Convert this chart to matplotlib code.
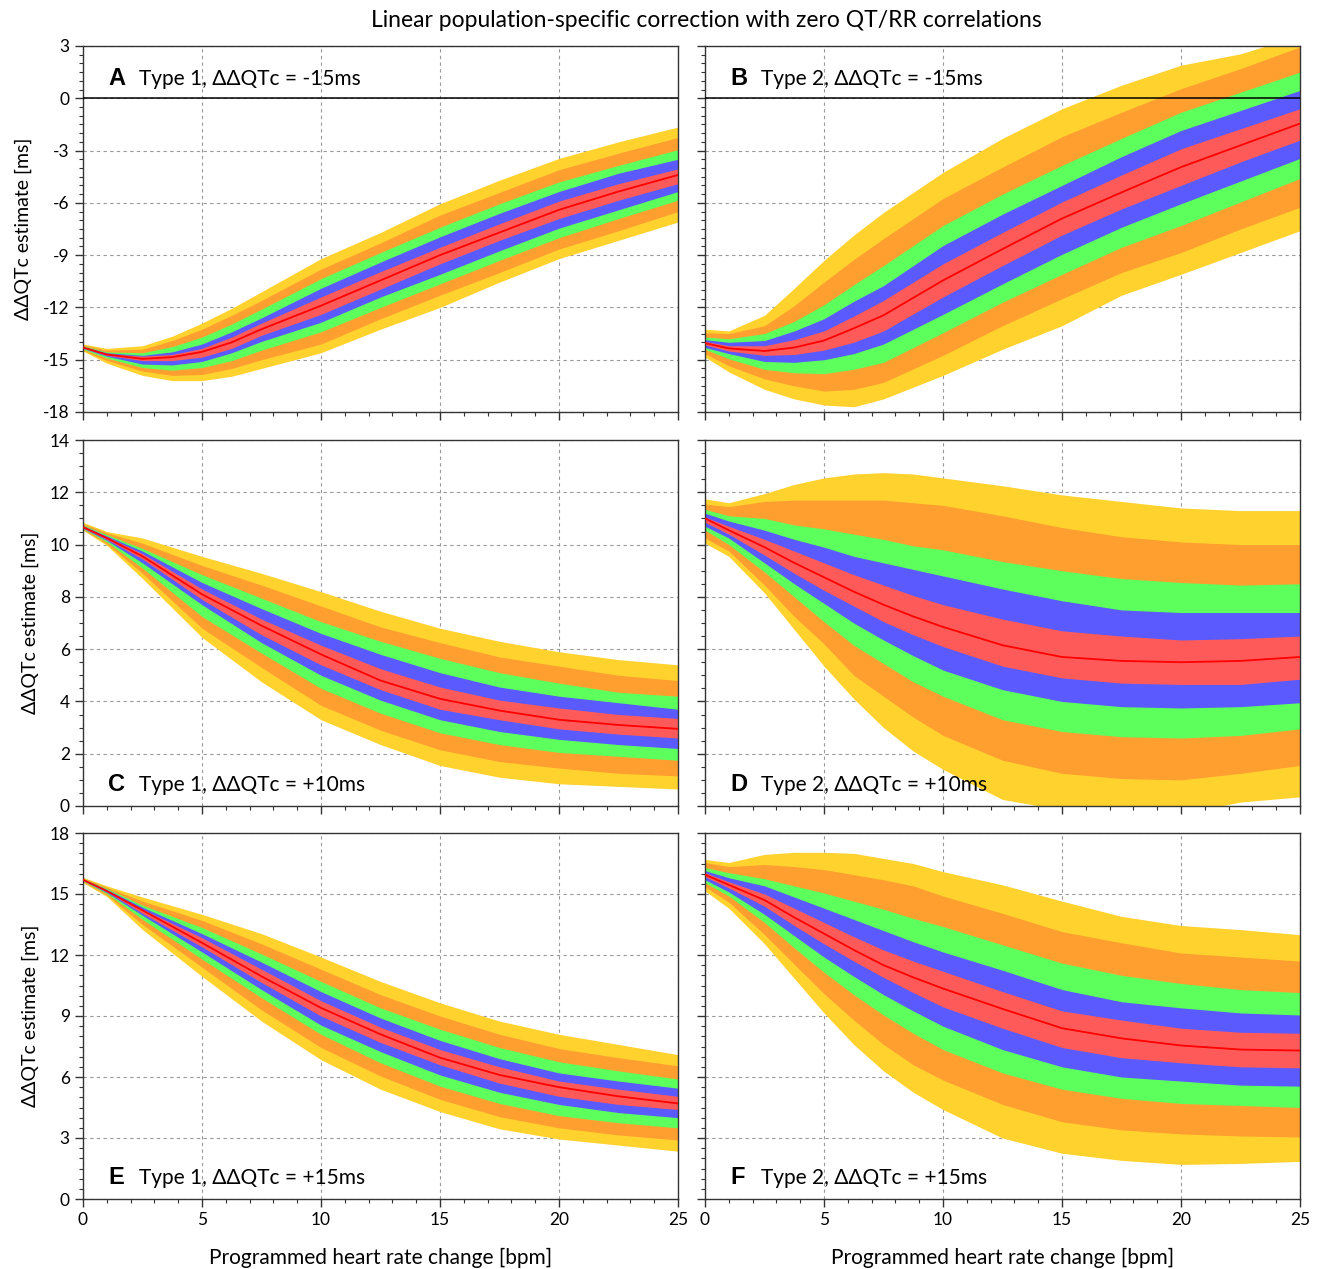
import matplotlib
matplotlib.use("Agg")
import matplotlib.pyplot as plt
from matplotlib.ticker import MultipleLocator

plt.rcParams['font.family'] = ['Lato', 'DejaVu Sans']
plt.rcParams['axes.unicode_minus'] = False

# programmed heart rate change [bpm] (finer steps where the curves bend)
x_ab = [0, 1, 2.5, 3.75, 5, 6.25, 7.5, 10, 12.5, 15, 17.5, 20, 22.5, 25]
x_ce = [0, 1, 2.5, 5, 7.5, 10, 12.5, 15, 17.5, 20, 22.5, 25]
x_df = [0, 1, 2.5, 3.75, 5, 6.25, 7.5, 8.75, 10, 12.5, 15, 17.5, 20, 22.5, 25]

#--- A: Type 1, -15ms
a_median    = [-14.3, -14.7, -14.95, -14.85, -14.55, -14.0, -13.25, -11.9, -10.45, -9.0, -7.7, -6.4, -5.35, -4.4]
a_yellow_hi = [-14.1, -14.35, -14.2, -13.65, -12.9, -12.05, -11.1, -9.2, -7.7, -6.05, -4.7, -3.45, -2.5, -1.65]
a_orange_hi = [-14.15, -14.45, -14.4, -13.9, -13.25, -12.45, -11.6, -9.8, -8.3, -6.7, -5.4, -4.1, -3.15, -2.25]
a_green_hi  = [-14.2, -14.55, -14.6, -14.25, -13.7, -12.95, -12.1, -10.35, -8.85, -7.4, -6.05, -4.8, -3.85, -2.95]
a_blue_hi   = [-14.25, -14.6, -14.75, -14.55, -14.1, -13.4, -12.6, -10.9, -9.4, -7.95, -6.6, -5.35, -4.3, -3.5]
a_red_hi    = [-14.28, -14.65, -14.8, -14.7, -14.35, -13.7, -12.9, -11.4, -9.95, -8.55, -7.2, -5.9, -4.9, -4.05]
a_red_lo    = [-14.32, -14.75, -15.05, -15.05, -14.85, -14.35, -13.6, -12.4, -10.95, -9.5, -8.15, -6.9, -5.85, -4.9]
a_blue_lo   = [-14.35, -14.8, -15.25, -15.3, -15.1, -14.6, -13.95, -12.85, -11.4, -10.1, -8.75, -7.45, -6.4, -5.35]
a_green_lo  = [-14.4, -14.9, -15.45, -15.6, -15.45, -15.05, -14.45, -13.4, -12.0, -10.65, -9.3, -8.0, -6.9, -5.85]
a_orange_lo = [-14.45, -15.05, -15.65, -15.9, -15.85, -15.5, -15.0, -14.1, -12.65, -11.3, -10.0, -8.65, -7.6, -6.5]
a_yellow_lo = [-14.5, -15.2, -15.9, -16.2, -16.2, -15.95, -15.5, -14.6, -13.25, -12.0, -10.55, -9.2, -8.15, -7.1]

#--- B: Type 2, -15ms
b_median    = [-14.05, -14.35, -14.5, -14.3, -13.9, -13.2, -12.45, -10.45, -8.65, -6.9, -5.4, -3.95, -2.7, -1.45]
b_yellow_hi = [-13.25, -13.35, -12.45, -10.9, -9.3, -7.85, -6.55, -4.25, -2.3, -0.6, 0.75, 1.9, 2.55, 3.6]
b_orange_hi = [-13.45, -13.5, -13.05, -11.9, -10.55, -9.25, -8.05, -5.75, -3.95, -2.2, -0.8, 0.55, 1.7, 2.95]
b_green_hi  = [-13.7, -13.8, -13.5, -12.8, -11.85, -10.7, -9.6, -7.3, -5.5, -3.85, -2.3, -0.8, 0.35, 1.5]
b_blue_hi   = [-13.85, -14.0, -13.9, -13.35, -12.65, -11.65, -10.75, -8.45, -6.65, -5.0, -3.35, -1.85, -0.7, 0.45]
b_red_hi    = [-13.95, -14.2, -14.2, -13.85, -13.35, -12.5, -11.6, -9.5, -7.7, -5.95, -4.4, -2.9, -1.75, -0.6]
b_red_lo    = [-14.15, -14.5, -14.75, -14.7, -14.45, -14.0, -13.35, -11.4, -9.6, -7.85, -6.35, -5.0, -3.65, -2.4]
b_blue_lo   = [-14.3, -14.65, -15.1, -15.15, -15.0, -14.65, -14.1, -12.4, -10.65, -8.95, -7.4, -6.05, -4.75, -3.45]
b_green_lo  = [-14.4, -14.95, -15.55, -15.75, -15.8, -15.55, -15.15, -13.45, -11.7, -10.1, -8.55, -7.3, -5.95, -4.6]
b_orange_lo = [-14.65, -15.35, -16.1, -16.5, -16.8, -16.7, -16.3, -14.75, -13.05, -11.5, -10.0, -8.85, -7.5, -6.25]
b_yellow_lo = [-14.85, -15.7, -16.7, -17.25, -17.6, -17.7, -17.25, -15.9, -14.4, -13.05, -11.3, -10.1, -8.85, -7.6]

#--- C: Type 1, +10ms
c_median    = [10.67, 10.25, 9.55, 8.1, 6.9, 5.8, 4.8, 4.1, 3.65, 3.3, 3.1, 2.95]
c_yellow_hi = [10.85, 10.5, 10.25, 9.55, 8.9, 8.2, 7.45, 6.8, 6.3, 5.9, 5.6, 5.4]
c_orange_hi = [10.8, 10.45, 10.05, 9.2, 8.45, 7.65, 6.85, 6.25, 5.7, 5.35, 5.0, 4.8]
c_green_hi  = [10.75, 10.38, 9.85, 8.85, 7.95, 7.05, 6.3, 5.65, 5.1, 4.7, 4.35, 4.2]
c_blue_hi   = [10.72, 10.33, 9.75, 8.55, 7.55, 6.6, 5.8, 5.1, 4.55, 4.2, 3.95, 3.7]
c_red_hi    = [10.7, 10.3, 9.65, 8.3, 7.15, 6.15, 5.25, 4.55, 4.05, 3.75, 3.5, 3.35]
c_red_lo    = [10.64, 10.2, 9.45, 7.9, 6.55, 5.4, 4.45, 3.7, 3.3, 2.95, 2.75, 2.6]
c_blue_lo   = [10.62, 10.16, 9.3, 7.7, 6.25, 5.0, 4.05, 3.3, 2.85, 2.55, 2.35, 2.2]
c_green_lo  = [10.6, 10.1, 9.1, 7.25, 5.85, 4.5, 3.55, 2.8, 2.35, 2.05, 1.9, 1.75]
c_orange_lo = [10.57, 10.03, 8.9, 6.8, 5.3, 3.85, 2.9, 2.15, 1.7, 1.45, 1.25, 1.15]
c_yellow_lo = [10.55, 9.97, 8.7, 6.45, 4.75, 3.3, 2.35, 1.55, 1.1, 0.85, 0.75, 0.65]

#--- D: Type 2, +10ms
d_median    = [11.0, 10.55, 9.9, 9.3, 8.75, 8.2, 7.7, 7.25, 6.85, 6.15, 5.7, 5.55, 5.5, 5.55, 5.7]
d_yellow_hi = [11.75, 11.6, 11.95, 12.3, 12.55, 12.7, 12.75, 12.7, 12.55, 12.25, 11.9, 11.65, 11.4, 11.3, 11.3]
d_orange_hi = [11.55, 11.45, 11.65, 11.7, 11.7, 11.7, 11.7, 11.6, 11.5, 11.1, 10.65, 10.3, 10.1, 10.0, 10.0]
d_green_hi  = [11.35, 11.1, 11.0, 10.75, 10.6, 10.4, 10.2, 9.95, 9.8, 9.35, 9.0, 8.7, 8.55, 8.45, 8.5]
d_blue_hi   = [11.2, 10.9, 10.55, 10.2, 9.9, 9.55, 9.3, 9.05, 8.8, 8.3, 7.85, 7.5, 7.4, 7.4, 7.4]
d_red_hi    = [11.05, 10.7, 10.2, 9.75, 9.3, 8.85, 8.45, 8.05, 7.7, 7.15, 6.7, 6.5, 6.35, 6.4, 6.5]
d_red_lo    = [10.85, 10.4, 9.6, 8.9, 8.25, 7.65, 7.05, 6.55, 6.1, 5.35, 4.9, 4.7, 4.65, 4.65, 4.85]
d_blue_lo   = [10.7, 10.25, 9.3, 8.5, 7.75, 7.0, 6.35, 5.75, 5.2, 4.45, 4.0, 3.8, 3.75, 3.8, 3.95]
d_green_lo  = [10.55, 10.0, 8.95, 8.0, 7.05, 6.15, 5.45, 4.75, 4.2, 3.3, 2.85, 2.65, 2.6, 2.7, 2.95]
d_orange_lo = [10.25, 9.75, 8.45, 7.25, 6.2, 5.0, 4.2, 3.4, 2.7, 1.75, 1.25, 1.05, 1.0, 1.25, 1.55]
d_yellow_lo = [10.05, 9.55, 8.15, 6.75, 5.35, 4.1, 3.0, 2.1, 1.4, 0.25, -0.15, -0.15, -0.3, 0.15, 0.35]

#--- E: Type 1, +15ms
e_median    = [15.7, 15.15, 14.2, 12.6, 10.95, 9.4, 8.1, 6.95, 6.1, 5.5, 5.05, 4.7]
e_yellow_hi = [15.82, 15.4, 14.85, 14.0, 13.05, 11.9, 10.7, 9.65, 8.75, 8.1, 7.6, 7.1]
e_orange_hi = [15.78, 15.33, 14.65, 13.7, 12.55, 11.3, 10.05, 9.0, 8.1, 7.4, 6.95, 6.55]
e_green_hi  = [15.75, 15.27, 14.45, 13.35, 12.05, 10.7, 9.4, 8.35, 7.45, 6.75, 6.3, 5.9]
e_blue_hi   = [15.73, 15.22, 14.35, 13.05, 11.65, 10.2, 8.9, 7.8, 6.9, 6.2, 5.8, 5.45]
e_red_hi    = [15.71, 15.18, 14.25, 12.85, 11.3, 9.75, 8.45, 7.35, 6.5, 5.8, 5.4, 5.05]
e_red_lo    = [15.68, 15.12, 14.05, 12.4, 10.65, 9.0, 7.7, 6.6, 5.7, 5.05, 4.65, 4.4]
e_blue_lo   = [15.66, 15.07, 13.95, 12.15, 10.3, 8.55, 7.25, 6.1, 5.25, 4.65, 4.25, 4.0]
e_green_lo  = [15.64, 15.02, 13.75, 11.8, 9.9, 8.1, 6.7, 5.55, 4.7, 4.1, 3.75, 3.5]
e_orange_lo = [15.6, 14.95, 13.5, 11.4, 9.3, 7.45, 6.05, 4.9, 4.05, 3.5, 3.15, 2.9]
e_yellow_lo = [15.56, 14.88, 13.25, 10.95, 8.75, 6.85, 5.4, 4.3, 3.45, 2.95, 2.65, 2.35]

#--- F: Type 2, +15ms
f_median    = [15.95, 15.45, 14.7, 13.85, 13.05, 12.25, 11.5, 10.9, 10.35, 9.35, 8.4, 7.9, 7.55, 7.35, 7.3]
f_yellow_hi = [16.7, 16.55, 16.95, 17.05, 17.05, 17.0, 16.75, 16.5, 16.1, 15.45, 14.65, 13.9, 13.45, 13.25, 13.0]
f_orange_hi = [16.55, 16.35, 16.45, 16.35, 16.2, 15.95, 15.7, 15.4, 14.9, 14.05, 13.15, 12.6, 12.1, 11.9, 11.7]
f_green_hi  = [16.3, 16.05, 15.75, 15.4, 15.05, 14.65, 14.25, 13.8, 13.4, 12.5, 11.6, 11.0, 10.6, 10.3, 10.15]
f_blue_hi   = [16.15, 15.8, 15.4, 14.85, 14.3, 13.75, 13.2, 12.65, 12.15, 11.25, 10.3, 9.7, 9.4, 9.15, 9.05]
f_red_hi    = [16.05, 15.6, 15.0, 14.3, 13.6, 12.9, 12.25, 11.7, 11.2, 10.2, 9.25, 8.8, 8.4, 8.2, 8.15]
f_red_lo    = [15.85, 15.3, 14.4, 13.45, 12.55, 11.7, 10.9, 10.15, 9.45, 8.4, 7.45, 6.95, 6.7, 6.5, 6.45]
f_blue_lo   = [15.7, 15.1, 14.0, 12.95, 11.9, 10.95, 10.05, 9.25, 8.5, 7.35, 6.5, 6.0, 5.8, 5.6, 5.55]
f_green_lo  = [15.55, 14.9, 13.6, 12.35, 11.15, 10.05, 9.05, 8.15, 7.35, 6.2, 5.4, 4.95, 4.7, 4.6, 4.5]
f_orange_lo = [15.35, 14.6, 13.0, 11.55, 10.1, 8.8, 7.6, 6.6, 5.85, 4.65, 3.8, 3.4, 3.2, 3.1, 3.05]
f_yellow_lo = [15.15, 14.3, 12.55, 10.85, 9.15, 7.6, 6.3, 5.25, 4.4, 3.0, 2.25, 1.9, 1.7, 1.75, 1.85]

panel_letters = ["A", "B", "C", "D", "E", "F"]
panel_texts = ["Type 1, ΔΔQTc = -15ms", "Type 2, ΔΔQTc = -15ms",
               "Type 1, ΔΔQTc = +10ms", "Type 2, ΔΔQTc = +10ms",
               "Type 1, ΔΔQTc = +15ms", "Type 2, ΔΔQTc = +15ms"]

band_colors = ["#FFD22E", "#FF9F30", "#5CFF5C", "#5A5AFF", "#FF5A5A"]
median_color = "#FF0000"


def main():
    fig = plt.figure(figsize=(13.21, 12.69), dpi=100)

    fig.text(0.535, 0.984, "Linear population-specific correction with zero QT/RR correlations",
             ha='center', va='center', fontsize=16.5)

    col_x = [83 / 1321, 705 / 1321]
    row_y = [1 - 412 / 1269, 1 - 806 / 1269, 1 - 1199 / 1269]
    w, h = 595 / 1321, 366 / 1269

    panels = [
        (x_ab, a_median, [a_yellow_lo, a_orange_lo, a_green_lo, a_blue_lo, a_red_lo],
         [a_yellow_hi, a_orange_hi, a_green_hi, a_blue_hi, a_red_hi]),
        (x_ab, b_median, [b_yellow_lo, b_orange_lo, b_green_lo, b_blue_lo, b_red_lo],
         [b_yellow_hi, b_orange_hi, b_green_hi, b_blue_hi, b_red_hi]),
        (x_ce, c_median, [c_yellow_lo, c_orange_lo, c_green_lo, c_blue_lo, c_red_lo],
         [c_yellow_hi, c_orange_hi, c_green_hi, c_blue_hi, c_red_hi]),
        (x_df, d_median, [d_yellow_lo, d_orange_lo, d_green_lo, d_blue_lo, d_red_lo],
         [d_yellow_hi, d_orange_hi, d_green_hi, d_blue_hi, d_red_hi]),
        (x_ce, e_median, [e_yellow_lo, e_orange_lo, e_green_lo, e_blue_lo, e_red_lo],
         [e_yellow_hi, e_orange_hi, e_green_hi, e_blue_hi, e_red_hi]),
        (x_df, f_median, [f_yellow_lo, f_orange_lo, f_green_lo, f_blue_lo, f_red_lo],
         [f_yellow_hi, f_orange_hi, f_green_hi, f_blue_hi, f_red_hi]),
    ]
    ylims = [(-18, 3, 3), (0, 14, 2), (0, 18, 3)]
    label_y = [0.91, 0.058, 0.058]

    for i, (xs, med, lows, highs) in enumerate(panels):
        row, col = i // 2, i % 2
        ax = fig.add_axes([col_x[col], row_y[row], w, h])
        plot_panel(ax, xs, med, lows, highs, ylims[row], row, col)
        ax.text(0.042, label_y[row], panel_letters[i], transform=ax.transAxes,
                fontsize=17, fontweight='bold', family=['Liberation Sans', 'DejaVu Sans'],
                va='center', ha='left')
        ax.text(0.094, label_y[row], panel_texts[i], transform=ax.transAxes,
                fontsize=15, va='center', ha='left')

    plt.savefig("out.png", dpi=100)
    plt.close()
    return


def plot_panel(ax, xs, med, lows, highs, ylim, row, col):
    for lo, hi, c in zip(lows, highs, band_colors):
        ax.fill_between(xs, lo, hi, color=c, lw=0, zorder=2)
    ax.plot(xs, med, color=median_color, lw=1.3, zorder=3)

    if row == 0:
        ax.axhline(0, color='black', lw=1.1, zorder=4)

    ax.set_xlim(0, 25)
    ax.set_ylim(ylim[0], ylim[1])
    ax.xaxis.set_major_locator(MultipleLocator(5))
    ax.xaxis.set_minor_locator(MultipleLocator(1))
    ax.yaxis.set_major_locator(MultipleLocator(ylim[2]))
    ax.yaxis.set_minor_locator(MultipleLocator(0.5))
    ax.grid(True, which='major', color='#999999', ls=(0, (3, 3)), lw=0.8, zorder=1)
    ax.set_axisbelow(True)

    ax.tick_params(which='major', direction='out', length=6, width=1, colors='#333333',
                   labelsize=12.5, labelcolor='black')
    ax.tick_params(which='minor', direction='out', length=3, width=0.8, colors='#333333')
    for sp in ax.spines.values():
        sp.set_color('#333333')
        sp.set_linewidth(1.0)

    if col == 1:
        ax.tick_params(axis='y', labelleft=False)
    else:
        ax.set_ylabel("ΔΔQTc estimate [ms]", fontsize=14, labelpad=8)
    if row < 2:
        ax.tick_params(axis='x', labelbottom=False)
    else:
        ax.set_xlabel("Programmed heart rate change [bpm]", fontsize=15, labelpad=14)
    return


if __name__ == "__main__":
    main()
